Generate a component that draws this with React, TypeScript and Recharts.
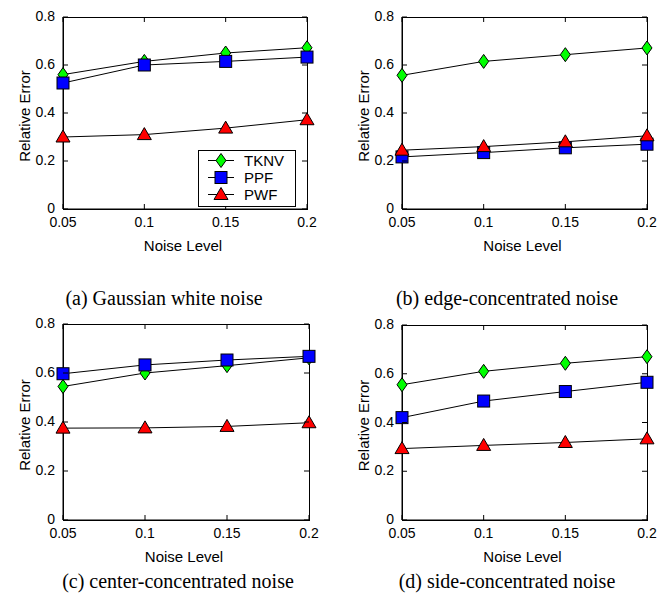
import { Legend, Line, LineChart, XAxis, YAxis } from 'recharts'

const noiseLevels = [0.05, 0.1, 0.15, 0.2]
const xTicks = [0.05, 0.1, 0.15, 0.2]
const yTicks = [0, 0.2, 0.4, 0.6, 0.8]

// (a) Gaussian white noise
const gaussianTknv = [0.56, 0.615, 0.65, 0.672]
const gaussianPpf = [0.525, 0.6, 0.615, 0.633]
const gaussianPwf = [0.3, 0.31, 0.337, 0.372]

// (b) edge-concentrated noise
const edgeTknv = [0.557, 0.615, 0.643, 0.671]
const edgePpf = [0.217, 0.235, 0.255, 0.27]
const edgePwf = [0.245, 0.26, 0.28, 0.305]

// (c) center-concentrated noise
const centerTknv = [0.545, 0.6, 0.63, 0.662]
const centerPpf = [0.597, 0.633, 0.653, 0.668]
const centerPwf = [0.375, 0.376, 0.382, 0.397]

// (d) side-concentrated noise
const sideTknv = [0.555, 0.61, 0.643, 0.67]
const sidePpf = [0.42, 0.488, 0.527, 0.565]
const sidePwf = [0.293, 0.306, 0.318, 0.333]

const seriesMeta = [
  { key: 'tknv', name: 'TKNV', shape: 'diamond' },
  { key: 'ppf', name: 'PPF', shape: 'square' },
  { key: 'pwf', name: 'PWF', shape: 'triangle' },
]

const SANS = '"Liberation Sans", Arial, Helvetica, sans-serif'
const SERIF = '"Liberation Serif", "Times New Roman", serif'

const buildRows = (tknv: number[], ppf: number[], pwf: number[]) =>
  noiseLevels.map((noise, i) => ({ noise, tknv: tknv[i], ppf: ppf[i], pwf: pwf[i] }))

const Marker = ({ shape, cx, cy }: any) => {
  if (cx == null || cy == null) return null
  if (shape === 'diamond')
    return (
      <polygon
        points={`${cx},${cy - 7} ${cx + 5},${cy} ${cx},${cy + 7} ${cx - 5},${cy}`}
        fill="#00ff00"
        stroke="#000"
        strokeWidth={1}
      />
    )
  if (shape === 'square')
    return <rect x={cx - 6} y={cy - 6} width={12} height={12} fill="#0000ff" stroke="#000" strokeWidth={1} />
  return (
    <polygon
      points={`${cx},${cy - 7} ${cx + 7},${cy + 5} ${cx - 7},${cy + 5}`}
      fill="#ff0000"
      stroke="#000"
      strokeWidth={1}
    />
  )
}

// MATLAB-style inward ticks on both sides of the box
const LeftTick = (props: any) => {
  const { x, y, payload, plotWidth } = props
  const axisX = x + 8
  return (
    <g>
      <line x1={axisX} x2={axisX + 5} y1={y} y2={y} stroke="black" strokeWidth={1} />
      <line x1={axisX + plotWidth - 5} x2={axisX + plotWidth} y1={y} y2={y} stroke="black" strokeWidth={1} />
      <text x={x} y={y} dy={4} textAnchor="end" fontSize={14} fontFamily={SANS} fill="#000">
        {String(payload.value)}
      </text>
    </g>
  )
}

const BottomTick = (props: any) => {
  const { x, y, payload, plotHeight } = props
  const axisY = y - 8
  return (
    <g>
      <line x1={x} x2={x} y1={axisY} y2={axisY - 5} stroke="black" strokeWidth={1} />
      <line x1={x} x2={x} y1={axisY - plotHeight} y2={axisY - plotHeight + 5} stroke="black" strokeWidth={1} />
      <text x={x} y={y} dy={10} textAnchor="middle" fontSize={14} fontFamily={SANS} fill="#000">
        {String(payload.value)}
      </text>
    </g>
  )
}

const LegendBox = () => (
  <div style={{ border: '1px solid #000', background: '#fff', padding: '1px 0 3px 0', boxSizing: 'border-box', width: 98 }}>
    {seriesMeta.map((s) => (
      <div key={s.key} style={{ display: 'flex', alignItems: 'center', height: 17 }}>
        <svg width={45} height={17} style={{ display: 'block' }}>
          <line x1={9} x2={35} y1={8.5} y2={8.5} stroke="#000" />
          <Marker shape={s.shape} cx={22} cy={8.5} />
        </svg>
        <span style={{ fontFamily: SANS, fontSize: 15, lineHeight: '17px', color: '#000' }}>{s.name}</span>
      </div>
    ))}
  </div>
)

type PanelProps = {
  left: number
  top: number
  plotLeft: number
  plotTop: number
  plotRight: number
  plotBottom: number
  tknv: number[]
  ppf: number[]
  pwf: number[]
  caption: string
  captionCenter: number
  captionTop: number
  showLegend?: boolean
}

const W = 335
const H = 270
const X_AXIS_H = 45

const Panel = (p: PanelProps) => {
  const data = buildRows(p.tknv, p.ppf, p.pwf)
  const plotWidth = p.plotRight - p.plotLeft
  const plotHeight = p.plotBottom - p.plotTop
  return (
    <>
      {/* axes box */}
      <div
        style={{
          position: 'absolute',
          left: p.left + p.plotLeft - 0.5,
          top: p.top + p.plotTop - 0.5,
          width: plotWidth + 1,
          height: plotHeight + 1,
          border: '1px solid #000',
          boxSizing: 'border-box',
          pointerEvents: 'none',
        }}
      />
      <div style={{ position: 'absolute', left: p.left, top: p.top, width: W, height: H }}>
        <LineChart
          width={W}
          height={H}
          data={data}
          margin={{ top: p.plotTop, right: W - p.plotRight, left: 0, bottom: H - p.plotBottom - X_AXIS_H }}
        >
          <XAxis
            dataKey="noise"
            type="number"
            domain={[0.05, 0.2]}
            ticks={xTicks}
            interval={0}
            height={X_AXIS_H}
            tickSize={0}
            tickMargin={8}
            tickLine={false}
            tick={(t: any) => <BottomTick {...t} plotHeight={plotHeight} />}
            axisLine={{ stroke: '#000' }}
            label={{
              content: ({ viewBox }: any) => (
                <text
                  x={viewBox.x + viewBox.width / 2 - 2}
                  y={viewBox.y + 42}
                  textAnchor="middle"
                  fontSize={15}
                  fontFamily={SANS}
                  fill="#000"
                >
                  Noise Level
                </text>
              ),
            }}
          />
          <YAxis
            type="number"
            domain={[0, 0.8]}
            ticks={yTicks}
            interval={0}
            width={p.plotLeft}
            tickSize={0}
            tickMargin={8}
            tickLine={false}
            tick={(t: any) => <LeftTick {...t} plotWidth={plotWidth} />}
            axisLine={{ stroke: '#000' }}
            label={{
              content: ({ viewBox }: any) => {
                const cx = viewBox.x + viewBox.width - 39
                const cy = viewBox.y + viewBox.height / 2 + 3
                return (
                  <text
                    x={cx}
                    y={cy}
                    transform={`rotate(-90, ${cx}, ${cy})`}
                    textAnchor="middle"
                    dominantBaseline="central"
                    fontSize={15}
                    fontFamily={SANS}
                    fill="#000"
                  >
                    Relative Error
                  </text>
                )
              },
            }}
          />
          {seriesMeta.map((s) => (
            <Line
              key={s.key}
              dataKey={s.key}
              name={s.name}
              type="linear"
              stroke="#000"
              strokeWidth={1}
              isAnimationActive={false}
              dot={(d: any) => <Marker key={`${s.key}-${d.index}`} shape={s.shape} cx={d.cx} cy={d.cy} />}
              activeDot={false}
            />
          ))}
          {p.showLegend && (
            <Legend
              verticalAlign="middle"
              align="center"
              content={<LegendBox />}
              wrapperStyle={{ left: 198, top: 150, width: 98 }}
            />
          )}
        </LineChart>
      </div>
      <div
        style={{
          position: 'absolute',
          left: p.left + p.captionCenter - 150,
          top: p.top + p.captionTop,
          width: 300,
          textAlign: 'center',
          fontFamily: SERIF,
          fontSize: 20,
          lineHeight: '20px',
          color: '#000',
          whiteSpace: 'nowrap',
        }}
      >
        {p.caption}
      </div>
    </>
  )
}

const App = () => (
  <div style={{ position: 'absolute', left: 0, top: 0, width: 670, height: 594, background: '#fff', overflow: 'hidden' }}>
    <Panel
      left={0}
      top={0}
      plotLeft={63}
      plotTop={17}
      plotRight={307}
      plotBottom={209}
      tknv={gaussianTknv}
      ppf={gaussianPpf}
      pwf={gaussianPwf}
      caption="(a) Gaussian white noise"
      captionCenter={164}
      captionTop={288}
      showLegend
    />
    <Panel
      left={335}
      top={0}
      plotLeft={67}
      plotTop={17}
      plotRight={312}
      plotBottom={209}
      tknv={edgeTknv}
      ppf={edgePpf}
      pwf={edgePwf}
      caption="(b) edge-concentrated noise"
      captionCenter={172}
      captionTop={288}
    />
    <Panel
      left={0}
      top={297}
      plotLeft={63}
      plotTop={27}
      plotRight={309}
      plotBottom={223}
      tknv={centerTknv}
      ppf={centerPpf}
      pwf={centerPwf}
      caption="(c) center-concentrated noise"
      captionCenter={178}
      captionTop={274}
    />
    <Panel
      left={335}
      top={297}
      plotLeft={67}
      plotTop={28}
      plotRight={312}
      plotBottom={223}
      tknv={sideTknv}
      ppf={sidePpf}
      pwf={sidePwf}
      caption="(d) side-concentrated noise"
      captionCenter={172}
      captionTop={274}
    />
  </div>
)

export default App
